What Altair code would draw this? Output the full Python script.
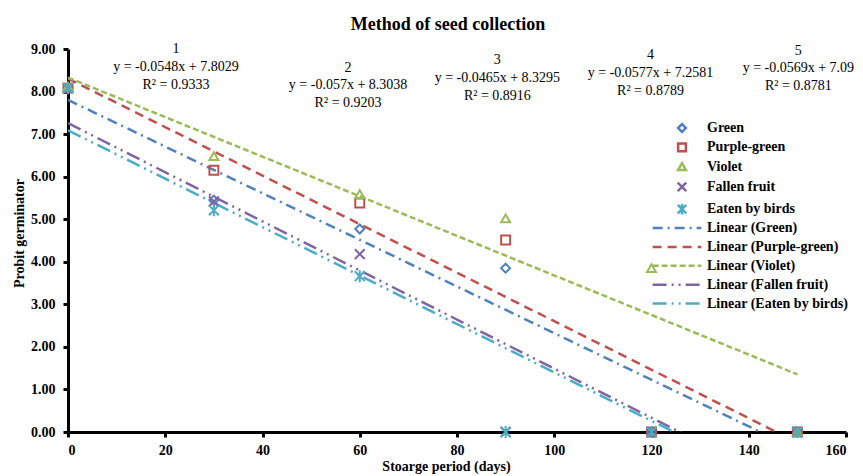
import altair as alt
import pandas as pd

# ---------------- data ----------------
days = [0, 30, 60, 90, 120, 150]
series = ["Green", "Purple-green", "Violet", "Fallen fruit", "Eaten by birds"]
green = [8.08, 5.45, 4.77, 3.85, 0.00, 0.00]
purple_green = [8.08, 6.15, 5.38, 4.51, 0.00, 0.00]
violet = [8.12, 6.48, 5.59, 5.02, 3.85, 0.00]
fallen_fruit = [8.08, 5.42, 4.18, 0.00, 0.00, 0.00]
eaten_by_birds = [8.08, 5.21, 3.66, 0.00, 0.00, 0.00]
slopes = [-0.0548, -0.057, -0.0465, -0.0577, -0.0569]
intercepts = [7.8029, 8.3038, 8.3295, 7.2581, 7.09]
r_squared = [0.9333, 0.9203, 0.8916, 0.8789, 0.8781]
ann_numbers = ["1", "2", "3", "4", "5"]
x_ticks = [0, 20, 40, 60, 80, 100, 120, 140, 160]
y_ticks = [0, 1, 2, 3, 4, 5, 6, 7, 8, 9]

# ---------------- styles / layout ----------------
colors = ["#4f81bd", "#c0504d", "#9bbb59", "#8064a2", "#4bacc6"]
shapes = [
    "diamond",
    "square",
    "triangle-up",
    "M-1.1,-1.1L1.1,1.1M1.1,-1.1L-1.1,1.1",
    "M-1.1,-1.1L1.1,1.1M1.1,-1.1L-1.1,1.1M0,-1.35L0,1.35",
]
dashes = [[10, 5, 2, 5], [9, 6], [6, 3], [14, 5, 2, 5, 2, 5], [14, 5, 2, 5, 2, 5]]
ann_x = [22.2, 57.6, 88.3, 119.8, 150.2]        # annotation centres (days)
ann_y = [8.58, 8.15, 8.32, 8.44, 8.55]          # centre of the equation line
FONT = "Liberation Serif"

values = [green, purple_green, violet, fallen_fruit, eaten_by_birds]
pts = pd.DataFrame(
    [{"days": d, "value": v, "series": s}
     for s, vals in zip(series, values) for d, v in zip(days, vals)]
)
trend_names = [f"Linear ({s})" for s in series]
lines = pd.DataFrame(
    [{"days": d, "value": m * d + b, "trend": t}
     for t, m, b in zip(trend_names, slopes, intercepts) for d in (days[0], days[-1])]
)
ann = pd.DataFrame({
    "x": ann_x,
    "y": ann_y,
    "num": ann_numbers,
    "eq": [f"y = {m}x + {b}" for m, b in zip(slopes, intercepts)],
    "r2": [f"R\u00b2 = {r}" for r in r_squared],
})

xscale = alt.Scale(domain=[0, 160], nice=False)
yscale = alt.Scale(domain=[0, 9], nice=False)

xaxis = alt.Axis(values=x_ticks, title="Stoarge period (days)", grid=False,
                 labelPadding=6, titleX=378, titleY=27, titleBaseline="top")
yaxis = alt.Axis(values=y_ticks, format=".2f", title="Probit germinator", grid=False,
                 labelPadding=8, titleY=184)

line_legend = alt.Legend(title=None, orient="none", legendX=598, legendY=168,
                         symbolType="M-2.5,0L2.5,0", symbolSize=380,
                         symbolStrokeWidth=2.5, labelOffset=19,
                         rowPadding=0.9, padding=0)
point_legend = alt.Legend(title=None, orient="none", legendX=607, legendY=72,
                          symbolSize=60, symbolStrokeWidth=2.5, labelOffset=18,
                          rowPadding=1.3, padding=0)

line_layer = alt.Chart(lines).mark_line(clip=True, strokeWidth=2.5).encode(
    x=alt.X("days:Q", scale=xscale, axis=xaxis),
    y=alt.Y("value:Q", scale=yscale, axis=yaxis),
    color=alt.Color("trend:N", scale=alt.Scale(domain=trend_names, range=colors),
                    legend=line_legend),
    strokeDash=alt.StrokeDash("trend:N", scale=alt.Scale(domain=trend_names, range=dashes),
                              legend=line_legend),
    order="days:Q",
)

point_layer = alt.Chart(pts).mark_point(filled=False, strokeWidth=2, size=80, opacity=1).encode(
    x=alt.X("days:Q", scale=xscale),
    y=alt.Y("value:Q", scale=yscale),
    color=alt.Color("series:N", scale=alt.Scale(domain=series, range=colors),
                    legend=point_legend),
    shape=alt.Shape("series:N", scale=alt.Scale(domain=series, range=shapes),
                    legend=point_legend),
)

def ann_text(field, dy):
    return alt.Chart(ann).mark_text(
        font=FONT, fontSize=14, color="black", align="center", baseline="middle", dy=dy
    ).encode(
        x=alt.X("x:Q", scale=xscale),
        y=alt.Y("y:Q", scale=yscale),
        text=f"{field}:N",
    )

chart = alt.layer(
    line_layer, point_layer, ann_text("num", -17.5), ann_text("eq", 0), ann_text("r2", 18)
).resolve_scale(
    color="independent", shape="independent", strokeDash="independent"
).resolve_legend(
    color="independent", shape="independent", strokeDash="independent"
).properties(
    width=778,
    height=383,
    padding={"left": 68, "top": 49, "right": 17, "bottom": 44},
    autosize=alt.AutoSizeParams(type="none"),
    title=alt.TitleParams("Method of seed collection", font=FONT, fontSize=18,
                          fontWeight="bold", color="black", dx=-9, offset=8),
    background="white",
).configure_view(stroke=None).configure_axis(
    domainColor="black", domainWidth=3, tickColor="black", tickWidth=3, tickSize=5,
    labelFont=FONT, labelFontSize=14, labelFontWeight="bold", labelColor="black",
    titleFont=FONT, titleFontSize=14, titleFontWeight="bold", titleColor="black",
).configure_legend(
    labelFont=FONT, labelFontSize=14, labelFontWeight="bold", labelColor="black",
)

chart.save("out.html", embed_options={"renderer": "svg", "actions": False})
